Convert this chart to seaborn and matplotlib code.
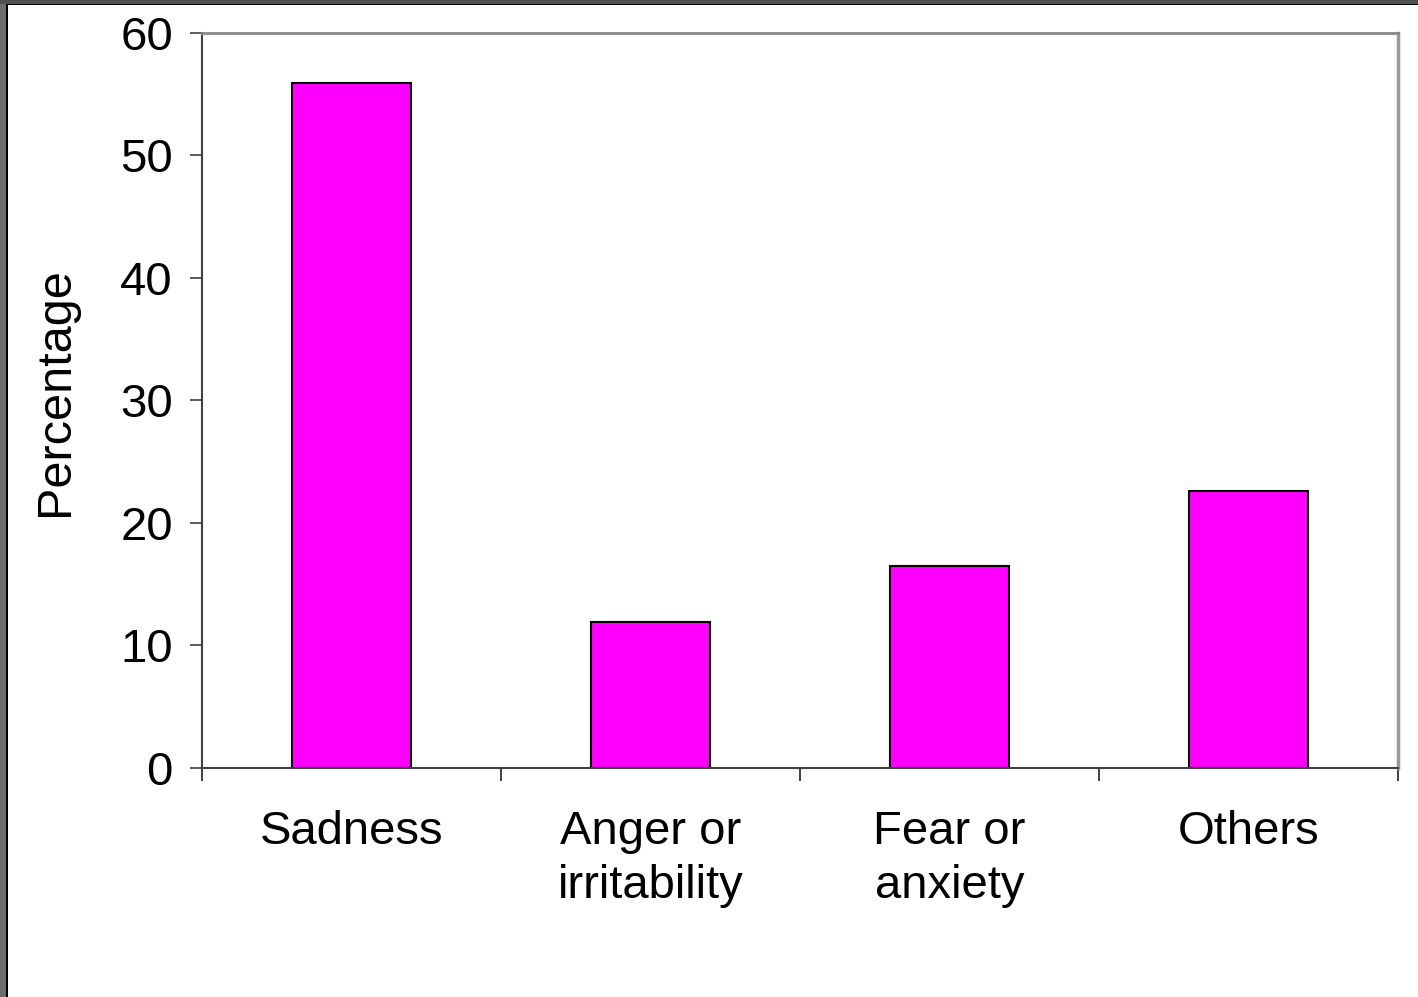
import pandas as pd
import matplotlib.pyplot as plt
import seaborn as sns
from matplotlib.patches import Rectangle

# Chart data
categories = ['Sadness', 'Anger or\nirritability', 'Fear or\nanxiety', 'Others']
percentages = [55.9, 11.9, 16.5, 22.6]
y_ticks = [0, 10, 20, 30, 40, 50, 60]

df = pd.DataFrame({'Emotion': categories, 'Percentage': percentages})

sns.set_theme(style='white')
plt.rcParams['font.family'] = ['Liberation Sans', 'DejaVu Sans']

fig = plt.figure(figsize=(14.18, 9.97), dpi=100)
ax = fig.add_axes([0.1425, 0.2297, 0.8434, 0.7372])

sns.barplot(x='Emotion', y='Percentage', data=df, color='#FF00FF',
            saturation=1, width=0.4, edgecolor='black', linewidth=1.5, ax=ax)

ax.set_xlim(-0.5, len(categories) - 0.5)
ax.set_ylim(0, 60)
ax.set_yticks(y_ticks)
ax.set_yticklabels([str(t) for t in y_ticks], fontsize=34)

# category labels centred, tick marks between categories
ax.set_xticks([i - 0.5 for i in range(len(categories) + 1)])
ax.set_xticklabels([])
ax.set_xticks(range(len(categories)), minor=True)
ax.set_xticklabels(categories, minor=True, fontsize=34, color='black',
                   linespacing=1.3)
ax.tick_params(axis='x', which='major', direction='out', length=9, width=1.2,
               color='#202020', bottom=True)
ax.tick_params(axis='x', which='minor', length=0, pad=30)
ax.tick_params(axis='y', direction='out', length=9, width=1.2, color='#404040',
               left=True, pad=12, labelcolor='black')

ax.set_xlabel('')
ax.set_ylabel('Percentage', fontsize=35, color='black')
ax.yaxis.set_label_coords(-0.104, 0.512)

for side in ['left', 'bottom']:
    ax.spines[side].set_color('#404040')
    ax.spines[side].set_linewidth(1.5)
ax.spines['top'].set_color('#888888')
ax.spines['top'].set_linewidth(2)
ax.spines['right'].set_color('#999999')
ax.spines['right'].set_linewidth(2.5)
for s in ax.spines.values():
    s.set_visible(True)

# window frame on the left and top edges
W, H = 1418, 997
fig.patches.append(Rectangle((0, 0), 6 / W, 1, transform=fig.transFigure,
                             facecolor='#6e6e6e', edgecolor='none', zorder=5))
fig.patches.append(Rectangle((6 / W, 0), 1.5 / W, 1, transform=fig.transFigure,
                             facecolor='black', edgecolor='none', zorder=5))
fig.patches.append(Rectangle((0, 1 - 4 / H), 1, 4 / H, transform=fig.transFigure,
                             facecolor='#505050', edgecolor='none', zorder=5))
fig.patches.append(Rectangle((6 / W, 1 - 5.5 / H), 1, 1.5 / H, transform=fig.transFigure,
                             facecolor='black', edgecolor='none', zorder=5))

fig.savefig('out.png', dpi=100)
